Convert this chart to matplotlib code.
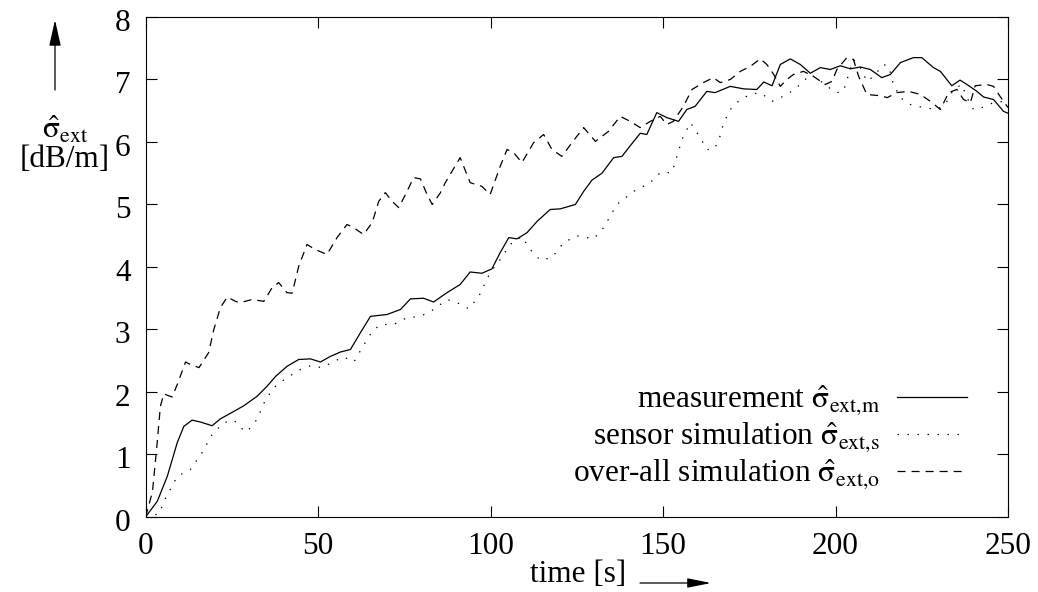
import matplotlib
matplotlib.use("Agg")
import matplotlib.pyplot as plt
import matplotlib.transforms as mtransforms

# measurement
t_meas = [0, 3.4, 6.3, 9.2, 11.1, 13.5, 15.9, 19.3, 21.7, 25.6, 28.5, 32.3, 35.2, 37.7, 41, 44.4,
          47.8, 50.7, 53.6, 56.5, 59.4, 62.3, 65.2, 70, 73.9, 76.8, 80.6, 83.5, 87.4, 91.2, 94.1,
          97.5, 100.4, 102.8, 105.3, 107.7, 110.6, 113.5, 117.3, 120.2, 124.6, 127, 129.4, 132.3,
          135.7, 138.1, 140.5, 143.4, 145.3, 148.2, 151.1, 154.5, 156.9, 159.3, 162.7, 165.1,
          169.5, 173.4, 177.2, 179.2, 181.6, 184, 186.9, 189.8, 192.7, 195.6, 198.5, 201.4, 204.3,
          207.2, 210.1, 213.4, 215.9, 218.8, 222.6, 225, 228.4, 230.4, 233.7, 236.1, 238.1, 241,
          242.9, 245.8, 248.7, 250]
y_meas = [0, 0.25, 0.65, 1.19, 1.45, 1.55, 1.52, 1.46, 1.57, 1.69, 1.78, 1.93, 2.09, 2.25, 2.41, 2.52,
          2.53, 2.48, 2.57, 2.64, 2.68, 2.95, 3.21, 3.24, 3.32, 3.49, 3.5, 3.44, 3.59, 3.72, 3.92,
          3.9, 3.97, 4.23, 4.47, 4.45, 4.55, 4.73, 4.92, 4.93, 5.0, 5.21, 5.39, 5.5,
          5.75, 5.77, 5.94, 6.14, 6.12, 6.47, 6.39, 6.33, 6.52, 6.57, 6.81, 6.79,
          6.89, 6.85, 6.84, 6.96, 6.9, 7.24, 7.33, 7.24, 7.1, 7.19, 7.16, 7.22, 7.17,
          7.2, 7.16, 7.03, 7.08, 7.27, 7.35, 7.35, 7.19, 7.13, 6.9, 6.99, 6.92, 6.81,
          6.72, 6.68, 6.49, 6.46]

# sensor simulation
t_sens = [0, 3.9, 5.8, 9.2, 13, 16.4, 19.3, 22.7, 25.6, 27.5, 29.4, 32.3, 34.8, 37.2, 41, 44.9, 47.8,
          51.2, 54.6, 57.5, 60.4, 62.8, 65.7, 68.1, 71.9, 75.8, 79.7, 83.5, 87.4, 90.3, 93.7, 96.6,
          99.9, 102.8, 105.7, 109.1, 111.5, 114.4, 117.8, 121.2, 125, 129.9, 132.8, 136.6, 141.5,
          146.3, 149.2, 152.6, 155.5, 157.9, 160.8, 162.7, 164.7, 166.1, 167.6, 169.5, 172.4, 175.3,
          178.2, 181.6, 186, 189.8, 192.7, 195.1, 197.5, 200.4, 202.3, 203.8, 205.2, 207.2, 209.1,
          211, 213.9, 215.4, 216.8, 218.8, 221.7, 225.5, 229.4, 231.8, 234.2, 236.6, 238.1, 240,
          242.4, 245.8, 248.7, 250]
y_sens = [0, 0.05, 0.3, 0.65, 0.76, 1.03, 1.32, 1.51, 1.55, 1.43, 1.36, 1.56, 1.88, 2.07, 2.23, 2.36, 2.42,
          2.39, 2.49, 2.56, 2.48, 2.71, 2.97, 3.08, 3.08, 3.19, 3.21, 3.32, 3.48, 3.43, 3.33, 3.53,
          3.91, 4.12, 4.36, 4.49, 4.28, 4.11, 4.15, 4.39, 4.5, 4.45, 4.63, 5.0, 5.21,
          5.35, 5.51, 5.51, 6.04, 6.31, 6.07, 5.88, 5.88, 6.01, 6.31, 6.52, 6.68, 6.76,
          6.79, 6.65, 6.76, 6.92, 7.08, 7.0, 6.89, 6.79, 6.81, 7.08, 7.32, 7.19, 6.97,
          7.05, 7.24, 7.21, 6.92, 6.71, 6.6, 6.55, 6.52, 6.6, 6.84, 6.92, 6.71, 6.52,
          6.55, 6.63, 6.65, 6.57]

# over-all simulation
t_over = [0, 2, 3.4, 4.3, 5.3, 7.7, 9.2, 11.6, 13, 15.5, 18.3, 19.8, 21.7, 23.7, 26.1, 27.5, 30.9, 34.3,
          36.7, 38.6, 41, 42.5, 44.4, 46.8, 49.2, 52.6, 55.5, 58.4, 60.3, 63.2, 65.7, 67.6, 69.5,
          71.5, 73.4, 75.8, 77.7, 79.7, 81.6, 83.1, 85.5, 86.9, 91.2, 94.1, 97.5, 99.9, 102.8,
          104.8, 106.7, 109.1, 112.5, 115.4, 117.8, 120.7, 123.6, 127, 130.4, 134.2, 137.6, 140.5,
          143.4, 146.3, 149.2, 151.1, 153, 155.9, 158.4, 161.7, 164.6, 166.6, 169.5, 172.4, 175.3,
          178.2, 180.1, 182.1, 184, 185.9, 187.8, 190.7, 193.6, 197, 199, 200.4, 203.3, 205.2,
          206.7, 209.1, 213, 215, 217.8, 221.2, 224.6, 227.5, 230.4, 232.8, 235.2, 237.1, 239.1,
          240.5, 243.9, 245.8, 247.7, 250]
y_over = [0, 0.4, 1.2, 1.77, 1.97, 1.92, 2.12, 2.48, 2.44, 2.39, 2.63, 3.0, 3.35, 3.52, 3.45, 3.43, 3.48, 3.45,
          3.67, 3.75, 3.59, 3.58, 4.01, 4.36, 4.28, 4.2, 4.47, 4.68, 4.63, 4.52, 4.71, 5.05, 5.19,
          5.05, 4.95, 5.21, 5.43, 5.41, 5.16, 5.0, 5.19, 5.35, 5.75, 5.35, 5.29, 5.16, 5.61,
          5.88, 5.83, 5.67, 5.99, 6.12, 5.88, 5.77, 5.99, 6.23, 6.01, 6.17, 6.41, 6.33,
          6.23, 6.33, 6.41, 6.28, 6.33, 6.57, 6.84, 6.95, 7.03, 6.95, 7.0, 7.13, 7.21,
          7.33, 7.24, 7.08, 6.89, 7.0, 7.08, 7.13, 7.05, 6.92, 6.97, 7.16, 7.35, 7.32,
          7.05, 6.76, 6.74, 6.71, 6.79, 6.81, 6.76, 6.65, 6.52, 6.79, 6.84, 6.68, 6.63,
          6.9, 6.92, 6.89, 6.73, 6.55]

labels = [r"measurement $\hat{\mathrm{\sigma}}_{\mathrm{ext{,}m}}$",
          r"sensor simulation $\hat{\mathrm{\sigma}}_{\mathrm{ext{,}s}}$",
          r"over-all simulation $\hat{\mathrm{\sigma}}_{\mathrm{ext{,}o}}$"]

plt.rcParams["font.family"] = ["Liberation Serif", "DejaVu Serif"]
plt.rcParams["mathtext.fontset"] = "stix"
plt.rcParams["lines.scale_dashes"] = False
fs = 22.5

fig = plt.figure(figsize=(10.38, 5.92), dpi=100)
ax = fig.add_axes([0.1402, 0.1267, 0.8309, 0.8446])

lw = 0.9
ax.plot(t_meas, y_meas, color="black", lw=lw, label=labels[0])
ax.plot(t_sens, y_sens, color="black", lw=lw, dashes=(1.0, 6.2), label=labels[1])
ax.plot(t_over, y_over, color="black", lw=lw, dashes=(5.8, 4.3), label=labels[2])

ax.set_xlim(0, 250)
ax.set_ylim(0, 8)
ax.set_xticks([0, 50, 100, 150, 200, 250])
ax.set_yticks(range(9))
ax.tick_params(direction="in", length=7.7, width=0.8, top=True, right=True,
               labelsize=fs, pad=10.8)
for sp in ax.spines.values():
    sp.set_linewidth(0.8)

# y tick labels sit a little below their ticks in the original
off = mtransforms.ScaledTranslation(0, -3 / 100, fig.dpi_scale_trans)
for lab in ax.get_yticklabels():
    lab.set_transform(lab.get_transform() + off)

ax.legend(loc="lower right", bbox_to_anchor=(0.9525, 0.051), frameon=False,
          markerfirst=False, fontsize=fs, handlelength=2.24, handletextpad=0.55,
          labelspacing=0.12, borderpad=0, borderaxespad=0)

# axis labels with arrows
fig.text(65 / 1038, 1 - 130 / 592, r"$\hat{\mathrm{\sigma}}_{\mathrm{ext}}$", fontsize=fs,
         ha="center", va="center")
fig.text(65 / 1038, 1 - 159 / 592, "[dB/m]", fontsize=fs, ha="center", va="center")
fig.add_artist(matplotlib.patches.FancyArrowPatch(
    (55 / 1038, 1 - 90 / 592), (55 / 1038, 1 - 20 / 592), transform=fig.transFigure,
    arrowstyle="-|>,head_length=1.6,head_width=0.36", mutation_scale=10,
    color="black", lw=0.9, shrinkA=0, shrinkB=0))

fig.text(578 / 1038, 1 - 575 / 592, "time [s]", fontsize=fs, ha="center", va="center")
fig.add_artist(matplotlib.patches.FancyArrowPatch(
    (640 / 1038, 1 - 583 / 592), (711 / 1038, 1 - 583 / 592), transform=fig.transFigure,
    arrowstyle="-|>,head_length=1.44,head_width=0.29", mutation_scale=10,
    color="black", lw=0.9, shrinkA=0, shrinkB=0))

fig.savefig("out.png", dpi=100)
